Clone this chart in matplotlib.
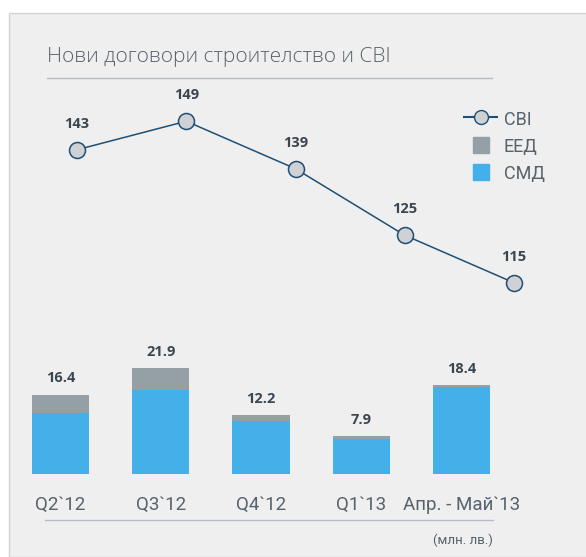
import numpy as np
from matplotlib import pyplot as plt
from matplotlib.patches import Rectangle
from matplotlib.lines import Line2D

plt.rcParams['font.family'] = ['Open Sans', 'DejaVu Sans']

# data
categories = ['Q2`12', 'Q3`12', 'Q4`12', 'Q1`13', 'Апр. - Май`13']
smd = [12.7, 17.4, 11.0, 7.2, 17.9]
eed = [3.7, 4.5, 1.2, 0.7, 0.5]
totals = [16.4, 21.9, 12.2, 7.9, 18.4]
cbi = [143, 149, 139, 125, 115]

blue = '#44b0ea'
grey = '#95a0a6'
navy = '#1f4f75'
text_c = '#56626c'
label_c = '#3b4650'
narrow = ['Roboto', 'DejaVu Sans']

fig = plt.figure(figsize=(5.86, 5.57), dpi=100)
fig.patch.set_facecolor('white')

# panel background
fig.patches.append(Rectangle((9 / 586, 0), 1, 1 - 13 / 557, transform=fig.transFigure,
                             facecolor='#efefef', edgecolor='#d2d2d2', lw=1.0, zorder=-10))

# title and dividers
fig.text(47 / 586, 1 - 57 / 557, 'Нови договори строителство и СВІ', fontsize=15,
         color=text_c, va='center', ha='left', fontweight='light')
fig.add_artist(Line2D([47 / 586, 492 / 586], [1 - 78 / 557] * 2, color='#b5bcc3', lw=1.0))
fig.add_artist(Line2D([45 / 586, 493 / 586], [1 - 520 / 557] * 2, color='#b5bcc3', lw=1.0))
fig.text(493 / 586, 1 - 540 / 557, '(млн. лв.)', fontsize=9.5, color=text_c,
         ha='right', va='center', family=narrow)

# bars
axb = fig.add_axes([10.4 / 586, 1 - 474 / 557, 501.2 / 586, 121 / 557])
x = np.arange(len(categories))
axb.bar(x, smd, width=0.57, color=blue)
axb.bar(x, eed, bottom=smd, width=0.57, color=grey)
for xi, t in zip(x, totals):
    axb.text(xi, t + 1.9, f'{t:.1f}', ha='center', va='bottom', fontsize=10.5,
             fontweight='bold', color=label_c)
axb.set_xlim(-0.5, 4.5)
axb.set_ylim(0, 25)
axb.set_xticks(x)
axb.set_xticklabels(categories, fontsize=13.5, color=text_c, family=narrow)
axb.tick_params(axis='x', length=0, pad=16)
axb.set_yticks([])
axb.patch.set_alpha(0)
for s in axb.spines.values():
    s.set_visible(False)

# line
axl = fig.add_axes([22.4 / 586, 1 - 354 / 557, 546.2 / 586, 285 / 557])
axl.plot(x, cbi, color=navy, lw=1.1, marker='o', markersize=11.5,
         markerfacecolor='#cfd2d5', markeredgecolor=navy, markeredgewidth=1.1)
for xi, v in zip(x, cbi):
    axl.text(xi, v + 4.0, str(v), ha='center', va='bottom', fontsize=10.5,
             fontweight='bold', color=label_c)
axl.set_xlim(-0.5, 4.5)
axl.set_ylim(100, 160)
axl.axis('off')

# legend
h_line = Line2D([], [], color=navy, lw=1.5, marker='o', markersize=10,
                markerfacecolor='#cfd2d5', markeredgecolor=navy)
h_eed = Line2D([], [], ls='none', marker='s', markersize=11, color=grey)
h_smd = Line2D([], [], ls='none', marker='s', markersize=11, color=blue)
fig.legend([h_line, h_eed, h_smd], ['СВІ', 'ЕЕД', 'СМД'],
           loc='upper left', bbox_to_anchor=(448 / 586, 1 - 94 / 557),
           frameon=False, labelcolor=text_c, handlelength=1.8,
           handleheight=1.0, labelspacing=0.5, handletextpad=0.4,
           prop={'family': narrow, 'size': 13})

fig.savefig('out.png', dpi=100)
